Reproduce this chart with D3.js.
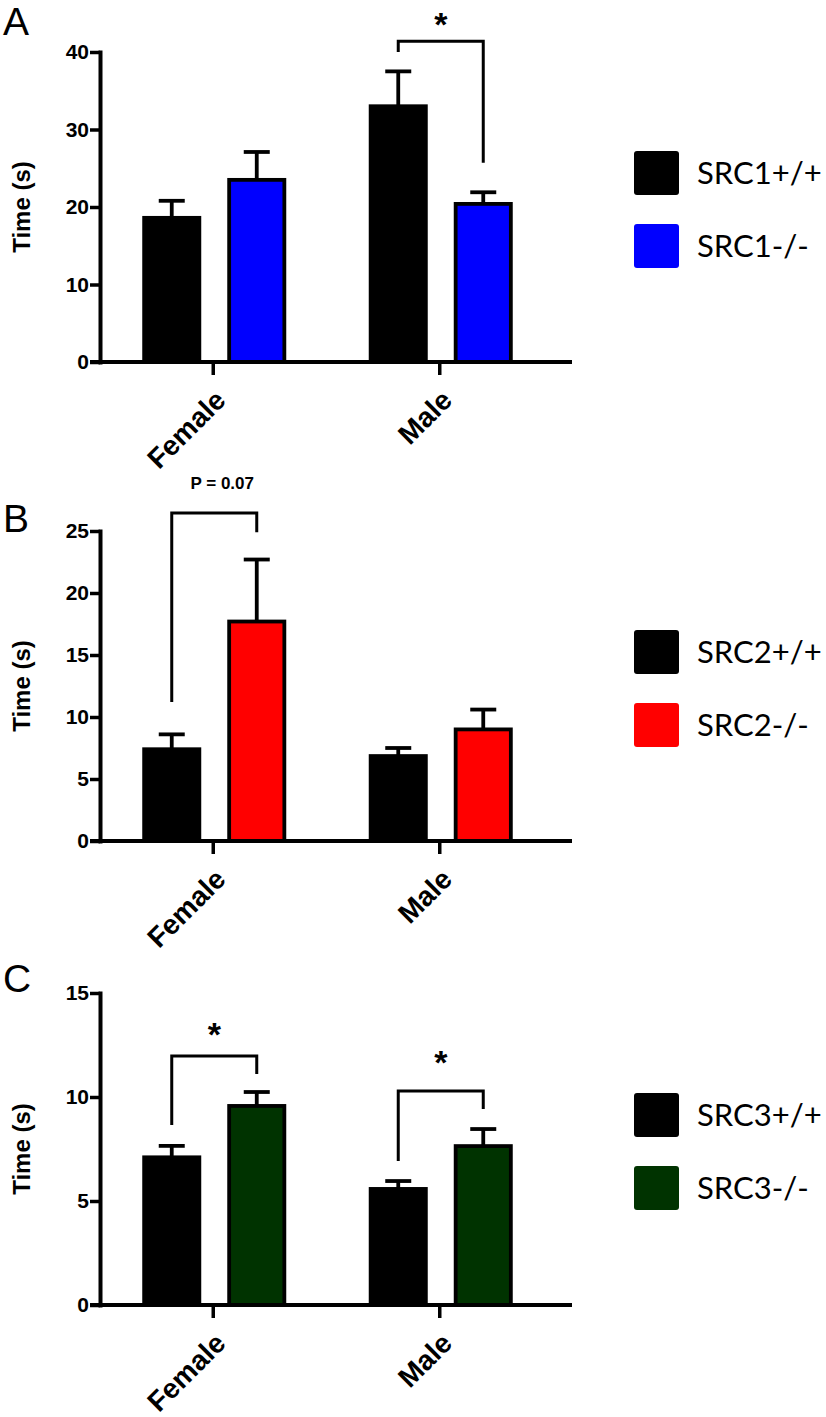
<!DOCTYPE html>
<html><head><meta charset="utf-8">
<script src="https://cdn.jsdelivr.net/npm/d3@7"></script>
<style>body{margin:0;background:#fff} svg{display:block}</style>
</head><body>
<script>
// ---------- data ----------
const categories = ["Female", "Male"];
const panelLetters = ["A", "B", "C"];
const legendA = ["SRC1+/+", "SRC1-/-"];
const legendB = ["SRC2+/+", "SRC2-/-"];
const legendC = ["SRC3+/+", "SRC3-/-"];
const yMaxes = [40, 25, 15];
const yTickSteps = [10, 5, 5];
const yTitle = "Time (s)";

// means and SEM (upper whisker) for wild type (+/+) and knockout (-/-)
const wtA = [18.6, 33.0], wtSemA = [2.2, 4.5];
const koA = [23.5, 20.4], koSemA = [3.6, 1.5];
const wtB = [7.4, 6.85], wtSemB = [1.2, 0.65];
const koB = [17.7, 9.0], koSemB = [5.0, 1.6];
const wtC = [7.1, 5.58], wtSemC = [0.55, 0.38];
const koC = [9.57, 7.64], koSemC = [0.67, 0.82];

// significance brackets (values in data units)
const bracketsA = [{cat: "Male", left: 40, top: 41.4, right: 25.7, label: "*", labelAt: 44.1}];
const bracketsB = [{cat: "Female", left: 11.2, top: 26.45, right: 24.9, label: "P = 0.07", labelAt: 28.9}];
const bracketsC = [
  {cat: "Female", left: 8.65, top: 11.97, right: 11.1, label: "*", labelAt: 13.2},
  {cat: "Male", left: 6.92, top: 10.29, right: 9.42, label: "*", labelAt: 11.87}
];
const koColors = ["#0000ff", "#ff0000", "#003300"];
const wtColor = "#000000";

// ---------- layout ----------
const W = 826, H = 1417;
const plotTops = [52, 531, 993];
const plotBottoms = [362, 841, 1305];
const letterBaselines = [35, 532, 992];
const axisX = 100, axisEnd = 572;
const sw = 3.8;

const svg = d3.select("body").append("svg").attr("width", W).attr("height", H);

const x = d3.scaleBand().domain(categories).range([axisX, 553]);
const xSub = d3.scaleBand().domain([0, 1]).range([-71, 73]).paddingInner(0.306);

const panels = [
  {wt: wtA, wtSem: wtSemA, ko: koA, koSem: koSemA, legend: legendA, brackets: bracketsA},
  {wt: wtB, wtSem: wtSemB, ko: koB, koSem: koSemB, legend: legendB, brackets: bracketsB},
  {wt: wtC, wtSem: wtSemC, ko: koC, koSem: koSemC, legend: legendC, brackets: bracketsC}
];

const boldFont = "'Liberation Sans', Arial, Helvetica, sans-serif";

panels.forEach((p, i) => {
  const g = svg.append("g");
  const y = d3.scaleLinear().domain([0, yMaxes[i]]).range([plotBottoms[i], plotTops[i]]);
  const color = [wtColor, koColors[i]];
  const center = c => x(c) + x.bandwidth() / 2;
  const barCenter = (c, s) => center(c) + xSub(s) + xSub.bandwidth() / 2;

  // panel letter
  g.append("text").attr("x", 3).attr("y", letterBaselines[i])
    .attr("font-family", boldFont).attr("font-size", 39).text(panelLetters[i]);

  // bars
  const rows = [];
  categories.forEach((c, ci) => {
    rows.push({c, s: 0, v: p.wt[ci], e: p.wtSem[ci]});
    rows.push({c, s: 1, v: p.ko[ci], e: p.koSem[ci]});
  });
  // error bars (upper only)
  rows.forEach(r => {
    const cx = barCenter(r.c, r.s);
    g.append("line").attr("x1", cx).attr("x2", cx)
      .attr("y1", y(r.v)).attr("y2", y(r.v + r.e))
      .attr("stroke", "#000").attr("stroke-width", sw);
    g.append("line").attr("x1", cx - 13).attr("x2", cx + 13)
      .attr("y1", y(r.v + r.e)).attr("y2", y(r.v + r.e))
      .attr("stroke", "#000").attr("stroke-width", sw);
  });
  g.selectAll("rect.bar").data(rows).join("rect").attr("class", "bar")
    .attr("x", r => center(r.c) + xSub(r.s) + sw / 2)
    .attr("width", xSub.bandwidth() - sw)
    .attr("y", r => y(r.v))
    .attr("height", r => y(0) - y(r.v))
    .attr("fill", r => color[r.s])
    .attr("stroke", "#000").attr("stroke-width", sw);

  // y axis
  const yAxis = d3.axisLeft(y)
    .tickValues(d3.range(0, yMaxes[i] + 0.001, yTickSteps[i]))
    .tickSize(10).tickSizeOuter(0).tickPadding(1);
  const ya = g.append("g").attr("transform", `translate(${axisX},0)`).call(yAxis);
  ya.select(".domain").attr("stroke-width", 4).attr("stroke-linecap", "square");
  ya.selectAll(".tick line").attr("stroke-width", 3.5);
  ya.selectAll(".tick text").attr("font-family", boldFont).attr("font-weight", "bold")
    .attr("font-size", 21).attr("fill", "#000");

  // x axis
  g.append("line").attr("x1", axisX - 10).attr("x2", axisEnd)
    .attr("y1", y(0)).attr("y2", y(0)).attr("stroke", "#000").attr("stroke-width", 4);
  categories.forEach(c => {
    g.append("line").attr("x1", center(c)).attr("x2", center(c))
      .attr("y1", y(0)).attr("y2", y(0) + 13).attr("stroke", "#000").attr("stroke-width", 3.5);
    g.append("text")
      .attr("transform", `translate(${center(c) + 14},${y(0) + 40}) rotate(-45)`)
      .attr("text-anchor", "end")
      .attr("font-family", boldFont).attr("font-weight", "bold").attr("font-size", 28)
      .text(c);
  });

  // y title
  g.append("text")
    .attr("transform", `translate(30,${(plotTops[i] + plotBottoms[i]) / 2}) rotate(-90)`)
    .attr("text-anchor", "middle")
    .attr("font-family", boldFont).attr("font-weight", "bold").attr("font-size", 24)
    .text(yTitle);

  // brackets
  p.brackets.forEach(b => {
    const xl = barCenter(b.cat, 0), xr = barCenter(b.cat, 1);
    g.append("path")
      .attr("d", `M${xl},${y(b.left)}V${y(b.top)}H${xr}V${y(b.right)}`)
      .attr("fill", "none").attr("stroke", "#000").attr("stroke-width", 3);
    const isStar = b.label === "*";
    g.append("text").attr("x", (xl + xr) / 2 + (isStar ? 0 : 8))
      .attr("y", y(b.labelAt) + (isStar ? 16 : 6))
      .attr("text-anchor", "middle")
      .attr("font-family", boldFont).attr("font-weight", "bold")
      .attr("font-size", isStar ? 34 : 17)
      .text(b.label);
  });

  // legend
  const midY = (plotTops[i] + plotBottoms[i]) / 2 + 2;
  p.legend.forEach((name, li) => {
    const top = midY - 58 + li * 73;
    g.append("rect").attr("x", 634).attr("y", top).attr("width", 45).attr("height", 44)
      .attr("rx", 3).attr("fill", color[li]);
    g.append("text").attr("x", 697).attr("y", top + 22 + 11)
      .attr("font-family", "Lato, 'Open Sans', sans-serif").attr("font-size", 31)
      .attr("fill", "#000").text(name);
  });
});
</script>
</body></html>
